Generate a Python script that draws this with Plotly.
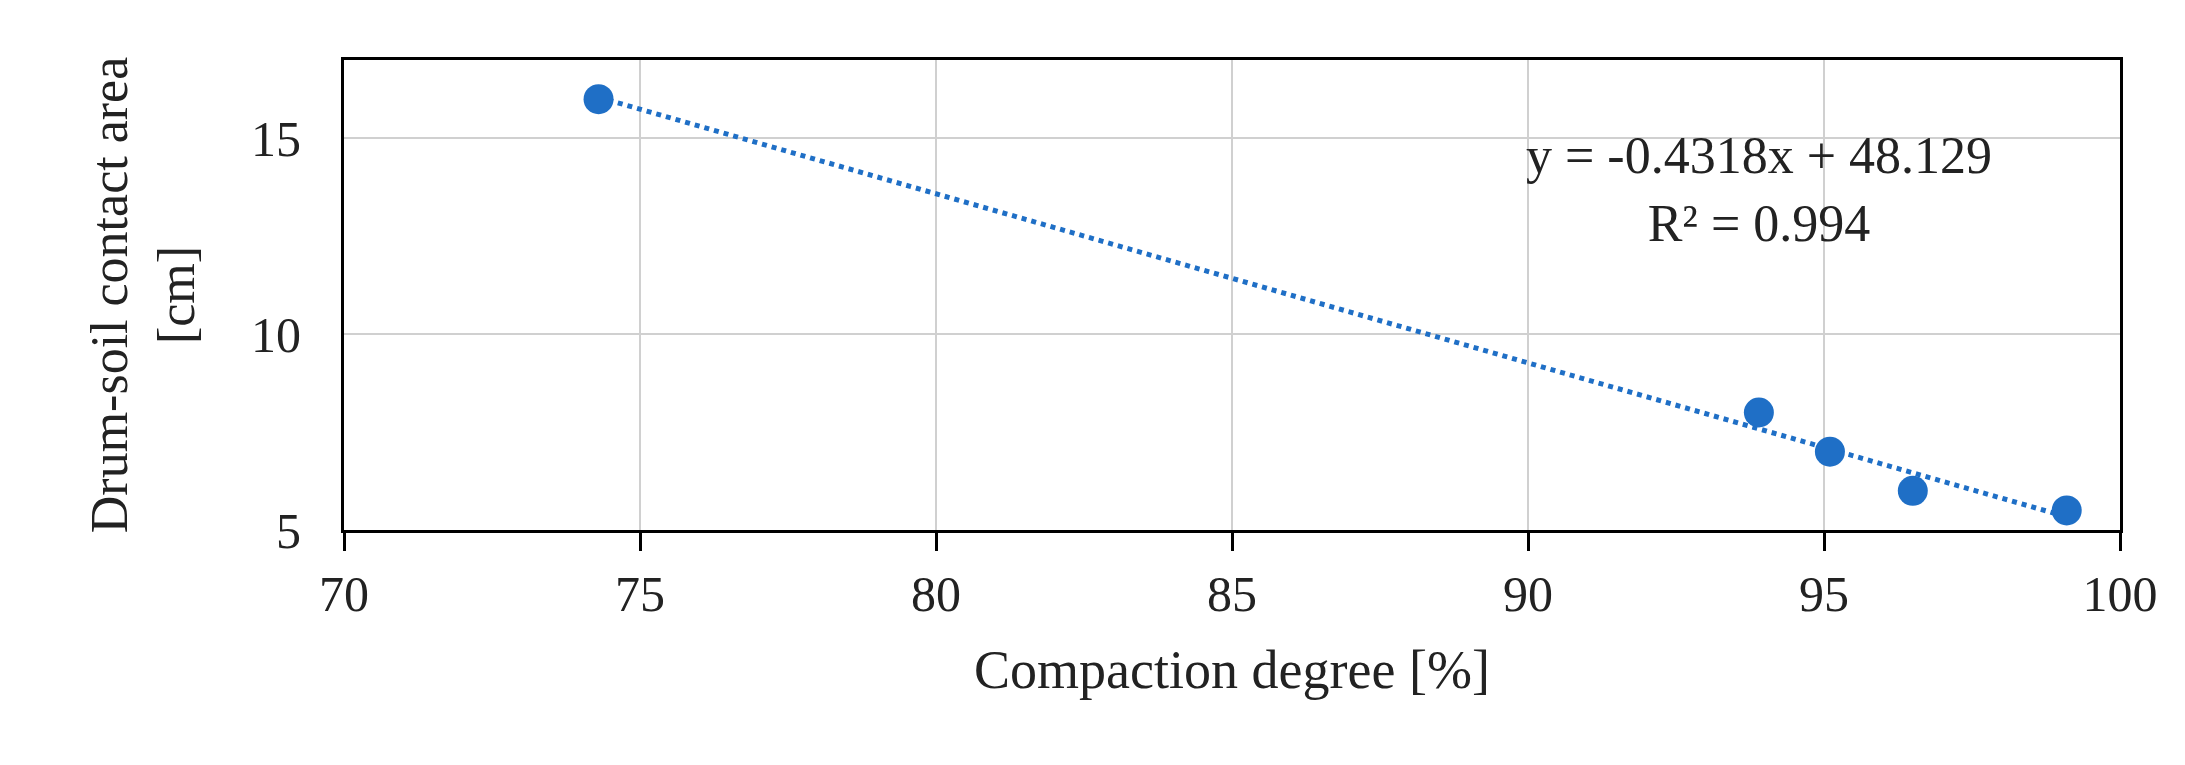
import numpy as np
import plotly.graph_objects as go

compaction = [74.3, 93.9, 95.1, 96.5, 99.1]
contact_area = [16.0, 8.0, 7.0, 6.0, 5.5]
slope = -0.4318
intercept = 48.129
eq_text = "y = -0.4318x + 48.129<br>R² = 0.994"

trend_x = np.array([min(compaction), max(compaction)])
trend_y = slope * trend_x + intercept

font = "Liberation Serif"

fig = go.Figure()
fig.add_trace(go.Scatter(x=trend_x, y=trend_y, mode="lines",
                         line=dict(color="#1f6fc6", width=5, dash="dot"),
                         showlegend=False))
fig.add_trace(go.Scatter(x=compaction, y=contact_area, mode="markers",
                         marker=dict(color="#1f6fc6", size=30),
                         showlegend=False))

fig.add_annotation(x=93.9, y=13.7, text=eq_text, showarrow=False,
                   font=dict(family=font, size=52, color="#222"), align="center")

fig.update_xaxes(range=[70, 100], dtick=5, showgrid=True, gridcolor="#d0d0d0", gridwidth=2,
                 showline=True, linecolor="black", linewidth=3, mirror=True,
                 ticks="outside", ticklen=18, tickwidth=3, tickcolor="black",
                 zeroline=False,
                 title=dict(text="Compaction degree [%]", font=dict(family=font, size=54), standoff=30),
                 tickfont=dict(family=font, size=50, color="#222"))
fig.update_yaxes(range=[5, 17], tickvals=[5, 10, 15], showgrid=True, gridcolor="#d0d0d0", gridwidth=2,
                 showline=True, linecolor="black", linewidth=3, mirror=True,
                 zeroline=False, ticks="outside", ticklen=30, tickcolor="white",
                 title=dict(text="Drum-soil contact area<br>[cm]", font=dict(family=font, size=52), standoff=40),
                 tickfont=dict(family=font, size=50, color="#222"))

fig.update_layout(width=2185, height=765, plot_bgcolor="white", paper_bgcolor="white",
                  margin=dict(l=336, r=73, t=52, b=243), font=dict(family=font, color="#222"))

fig.write_html("out.html")
